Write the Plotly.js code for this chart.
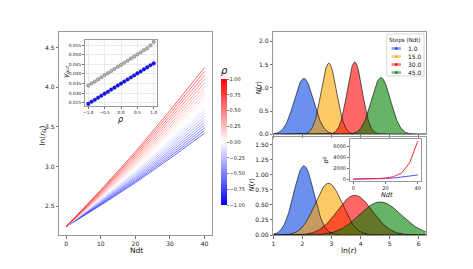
<!DOCTYPE html>
<html><head><meta charset="utf-8">
<script src="https://cdn.plot.ly/plotly-3.0.1.min.js"></script>
<style>html,body{margin:0;padding:0;background:#fff}#chart{width:473px;height:269px}</style>
</head><body><div id="chart"></div>
<script>
// ---------------- data ----------------
const ndt = [0, 10, 20, 30, 40];
const rhoValues = [-1.0,-0.9,-0.8,-0.7,-0.6,-0.5,-0.4,-0.3,-0.2,-0.1,0.0,0.1,0.2,0.3,0.4,0.5,0.6,0.7,0.8,0.9,1.0];
// ln(r_G) vs Ndt, one row per rho
const lnrG = [
  [2.24,2.511,2.795,3.101,3.420],
  [2.24,2.519,2.810,3.125,3.453],
  [2.24,2.527,2.826,3.150,3.487],
  [2.24,2.535,2.843,3.176,3.522],
  [2.24,2.543,2.859,3.201,3.557],
  [2.24,2.551,2.876,3.228,3.594],
  [2.24,2.560,2.894,3.255,3.631],
  [2.24,2.569,2.912,3.284,3.670],
  [2.24,2.578,2.930,3.312,3.709],
  [2.24,2.587,2.949,3.342,3.749],
  [2.24,2.597,2.969,3.372,3.790],
  [2.24,2.606,2.988,3.402,3.832],
  [2.24,2.616,3.008,3.434,3.875],
  [2.24,2.626,3.029,3.466,3.919],
  [2.24,2.636,3.050,3.498,3.963],
  [2.24,2.647,3.071,3.531,4.009],
  [2.24,2.658,3.094,3.566,4.056],
  [2.24,2.668,3.116,3.600,4.103],
  [2.24,2.680,3.138,3.635,4.151],
  [2.24,2.691,3.161,3.671,4.200],
  [2.24,2.702,3.185,3.707,4.250]
];
const gammaGray = [0.0340,0.0351,0.0361,0.0372,0.0383,0.0394,0.0404,0.0415,0.0426,0.0437,0.0447,0.0458,0.0469,0.0480,0.0490,0.0501,0.0512,0.0523,0.0533,0.0548,0.0566];
const gammaBlue = [0.0245,0.0256,0.0266,0.0277,0.0287,0.0298,0.0308,0.0319,0.0329,0.0340,0.0350,0.0361,0.0371,0.0382,0.0392,0.0403,0.0413,0.0424,0.0434,0.0445,0.0455];

const stepLabels = ['1.0', '15.0', '30.0', '45.0'];
const fitMuTop = [2.05, 2.91, 3.80, 4.70];
const fitSigmaTop = [0.332, 0.261, 0.257, 0.327];
const fitMuBottom = [2.05, 2.90, 3.80, 4.68];
const fitSigmaBottom = [0.347, 0.464, 0.604, 0.725];

const sigmaNdt = [0, 5, 10, 15, 20, 25, 30, 35, 40];
const sigma2Red = [0, 10, 35, 90, 200, 450, 1120, 3000, 6940];
const sigma2Blue = [0, 5, 15, 40, 100, 200, 380, 560, 750];

// ---------------- styling helpers ----------------
const W = 473, H = 269;
const px = v => v / W;
const py = v => 1 - v / H;
const FONT = 'DejaVu Sans';
const fillColors = ['rgba(10,70,230,0.6)', 'rgba(255,165,0,0.6)', 'rgba(255,0,0,0.6)', 'rgba(0,128,0,0.6)'];
const solidColors = ['rgb(10,60,230)', 'rgb(255,165,0)', 'rgb(255,0,0)', 'rgb(0,128,0)'];
function bwr(r, a) {
  const t = (r + 1) / 2;
  let c;
  if (t < 0.5) { const s = t / 0.5; c = [255 * s, 255 * s, 255]; }
  else { const s = (t - 0.5) / 0.5; c = [255, 255 * (1 - s), 255 * (1 - s)]; }
  return `rgba(${Math.round(c[0])},${Math.round(c[1])},${Math.round(c[2])},${a})`;
}
function gauss(mu, s, xs) { return xs.map(x => Math.exp(-0.5 * ((x - mu) / s) ** 2) / (s * Math.sqrt(2 * Math.PI))); }
const xgrid = []; for (let x = 1.0; x <= 6.2501; x += 0.02) xgrid.push(+x.toFixed(3));

const traces = [];
// left: ln(r_G) lines
rhoValues.forEach((r, i) => {
  traces.push({ x: ndt, y: lnrG[i], xaxis: 'x', yaxis: 'y', mode: 'lines', type: 'scatter',
    line: { color: bwr(r, 0.6), width: 1 }, showlegend: false, hoverinfo: 'skip' });
});
// colorbar carrier
traces.push({ x: [-100, -100], y: [3, 3], xaxis: 'x', yaxis: 'y', mode: 'markers', type: 'scatter', showlegend: false,
  marker: { color: [-1, 1], cmin: -1, cmax: 1, size: 1,
    colorscale: [[0, 'rgb(0,0,255)'], [0.5, 'rgb(255,255,255)'], [1, 'rgb(255,0,0)']],
    showscale: true,
    colorbar: { x: px(221), xanchor: 'left', y: py(134), yanchor: 'middle', thickness: 6, thicknessmode: 'pixels',
      len: 142, lenmode: 'pixels', outlinewidth: 0, tickvals: [-1, -0.75, -0.5, -0.25, 0, 0.25, 0.5, 0.75, 1],
      tickformat: '.2f', ticks: 'outside', ticklen: 2, tickwidth: 0.6, tickcolor: '#333', xpad: 0, ypad: 0,
      tickfont: { family: FONT, size: 5, color: '#222' },
      title: { text: '<i>ρ</i>', side: 'top', font: { family: FONT, size: 10, color: '#111' } } } } });
// left inset
traces.push({ x: rhoValues, y: gammaGray, xaxis: 'x2', yaxis: 'y2', mode: 'markers', type: 'scatter', showlegend: false,
  marker: { color: '#bbb', size: 3.2, line: { color: '#666', width: 0.6 } } });
traces.push({ x: rhoValues, y: gammaBlue, xaxis: 'x2', yaxis: 'y2', mode: 'markers', type: 'scatter', showlegend: false,
  marker: { color: 'rgb(20,20,240)', size: 3.6, line: { color: 'rgb(0,0,160)', width: 0.4 } } });
// right top / bottom distributions
[[fitMuTop, fitSigmaTop, 'x3', 'y3'], [fitMuBottom, fitSigmaBottom, 'x4', 'y4']].forEach(([mu, sg, xa, ya]) => {
  mu.forEach((m, k) => {
    traces.push({ x: xgrid, y: gauss(m, sg[k], xgrid), xaxis: xa, yaxis: ya, type: 'scatter', mode: 'lines',
      fill: 'tozeroy', fillcolor: fillColors[k], line: { width: 0 }, showlegend: false, hoverinfo: 'skip' });
  });
  mu.forEach((m, k) => {
    traces.push({ x: xgrid, y: gauss(m, sg[k], xgrid), xaxis: xa, yaxis: ya, type: 'scatter', mode: 'lines',
      line: { width: 0.8, color: 'rgba(20,20,20,0.85)' }, showlegend: false, hoverinfo: 'skip' });
  });
});
// bottom inset
traces.push({ x: sigmaNdt, y: sigma2Blue, xaxis: 'x5', yaxis: 'y5', type: 'scatter', mode: 'lines',
  line: { color: 'rgba(40,40,255,0.8)', width: 1 }, showlegend: false });
traces.push({ x: sigmaNdt, y: sigma2Red, xaxis: 'x5', yaxis: 'y5', type: 'scatter', mode: 'lines',
  line: { color: 'rgba(255,20,20,0.9)', width: 1 }, showlegend: false });

const baseAxis = { showline: true, mirror: true, linecolor: '#999', linewidth: 1, showgrid: false, zeroline: false,
  ticks: 'outside', ticklen: 2.5, tickwidth: 0.7, tickcolor: '#333', tickfont: { family: FONT, size: 6, color: '#222' } };
const ax = o => Object.assign({}, baseAxis, o);

// manual legend
const shapes = [];
const annotations = [];
const legX0 = 386.7, legX1 = 424, legY0 = 34, legY1 = 76;
shapes.push({ type: 'rect', xref: 'paper', yref: 'paper', x0: px(legX0), x1: px(legX1), y0: py(legY1), y1: py(legY0),
  fillcolor: 'rgba(255,255,255,0.9)', line: { color: '#ccc', width: 0.8 }, layer: 'above' });
annotations.push({ xref: 'paper', yref: 'paper', x: px(405.3), y: py(40.5), text: 'Steps (Ndt)', showarrow: false,
  xanchor: 'center', yanchor: 'middle', font: { family: FONT, size: 5.6, color: '#111' } });
const legRows = [48.5, 56.5, 64.5, 72.5];
stepLabels.forEach((lab, k) => {
  const yy = legRows[k];
  shapes.push({ type: 'line', xref: 'paper', yref: 'paper', x0: px(391.5), x1: px(401), y0: py(yy), y1: py(yy),
    line: { color: fillColors[k].replace('0.6)', '0.5)'), width: 2.6 }, layer: 'above' });
  shapes.push({ type: 'rect', xref: 'paper', yref: 'paper', x0: px(395.2), x1: px(397.4), y0: py(yy + 1.1), y1: py(yy - 1.1),
    fillcolor: solidColors[k], line: { width: 0 }, layer: 'above' });
  annotations.push({ xref: 'paper', yref: 'paper', x: px(405.5), y: py(yy), text: lab, showarrow: false,
    xanchor: 'left', yanchor: 'middle', font: { family: FONT, size: 6, color: '#111' } });
});
// axis titles as annotations
const tt = (x, y, text, size, angle) => annotations.push({ xref: 'paper', yref: 'paper', x: px(x), y: py(y),
  text: text, showarrow: false, xanchor: 'center', yanchor: 'middle', textangle: angle || 0,
  font: { family: FONT, size: size, color: '#111' } });
tt(42.5, 136, 'ln(<i>r</i><sub>G</sub>)', 7.5, -90);
tt(136, 250, 'Ndt', 7.5, 0);
tt(66, 72, '<i>γ</i><sub><i>out</i></sub>', 7, -90);
tt(120, 119.5, '<i>ρ</i>', 8, 0);
tt(258.5, 88, '<i>N</i>(<i>r</i>)', 7, -90);
tt(251.5, 185, '<i>N</i>(<i>r</i>)', 7, -90);
tt(348.5, 250, 'ln(<i>r</i>)', 7.5, 0);
tt(386.7, 195, '<i>Ndt</i>', 6.5, 0);
tt(325.5, 160, '<i>σ</i><sup>2</sup>', 6.5, -90);

const layout = {
  width: W, height: H, margin: { l: 0, r: 0, t: 0, b: 0 }, paper_bgcolor: '#fff', plot_bgcolor: '#fff',
  showlegend: false, font: { family: FONT },
  xaxis: ax({ domain: [px(59.3), px(211.5)], range: [-2, 42], tickvals: [0, 10, 20, 30, 40], anchor: 'y' }),
  yaxis: ax({ domain: [py(235), py(32)], range: [2.134, 4.698], tickvals: [2.5, 3.0, 3.5, 4.0, 4.5], tickformat: '.1f', anchor: 'x' }),
  xaxis2: ax({ domain: [px(85), px(157)], range: [-1.1, 1.1], tickvals: [-1, -0.5, 0, 0.5, 1], tickformat: '.1f', anchor: 'y2',
    showgrid: true, gridcolor: '#ddd', gridwidth: 0.6, ticklen: 2, tickfont: { family: FONT, size: 4.3, color: '#222' } }),
  yaxis2: ax({ domain: [py(106), py(40)], range: [0.0234, 0.0576], tickvals: [0.025, 0.030, 0.035, 0.040, 0.045, 0.050, 0.055], tickformat: '.3f', anchor: 'x2',
    showgrid: true, gridcolor: '#ddd', gridwidth: 0.6, ticklen: 2, tickfont: { family: FONT, size: 4.3, color: '#222' } }),
  xaxis3: ax({ domain: [px(273.3), px(426)], range: [1, 6.25], tickvals: [1, 2, 3, 4, 5, 6], showticklabels: false, anchor: 'y3' }),
  yaxis3: ax({ domain: [py(134.3), py(32)], range: [0, 2.2], tickvals: [0, 0.5, 1.0, 1.5, 2.0], tickformat: '.1f', anchor: 'x3' }),
  xaxis4: ax({ domain: [px(273.3), px(426)], range: [1, 6.25], tickvals: [1, 2, 3, 4, 5, 6], anchor: 'y4' }),
  yaxis4: ax({ domain: [py(235), py(137)], range: [0, 1.63], tickvals: [0, 0.25, 0.5, 0.75, 1.0, 1.25, 1.5], tickformat: '.2f', anchor: 'x4' }),
  xaxis5: ax({ domain: [px(350), px(421)], range: [-2, 42], tickvals: [0, 20, 40], anchor: 'y5', ticklen: 2,
    tickfont: { family: FONT, size: 5, color: '#222' } }),
  yaxis5: ax({ domain: [py(181), py(139.3)], range: [-350, 7290], tickvals: [0, 2000, 4000, 6000], anchor: 'x5', ticklen: 2,
    tickfont: { family: FONT, size: 5, color: '#222' } }),
  shapes: shapes, annotations: annotations
};
Plotly.newPlot('chart', traces, layout, { staticPlot: true, displayModeBar: false });
</script></body></html>
